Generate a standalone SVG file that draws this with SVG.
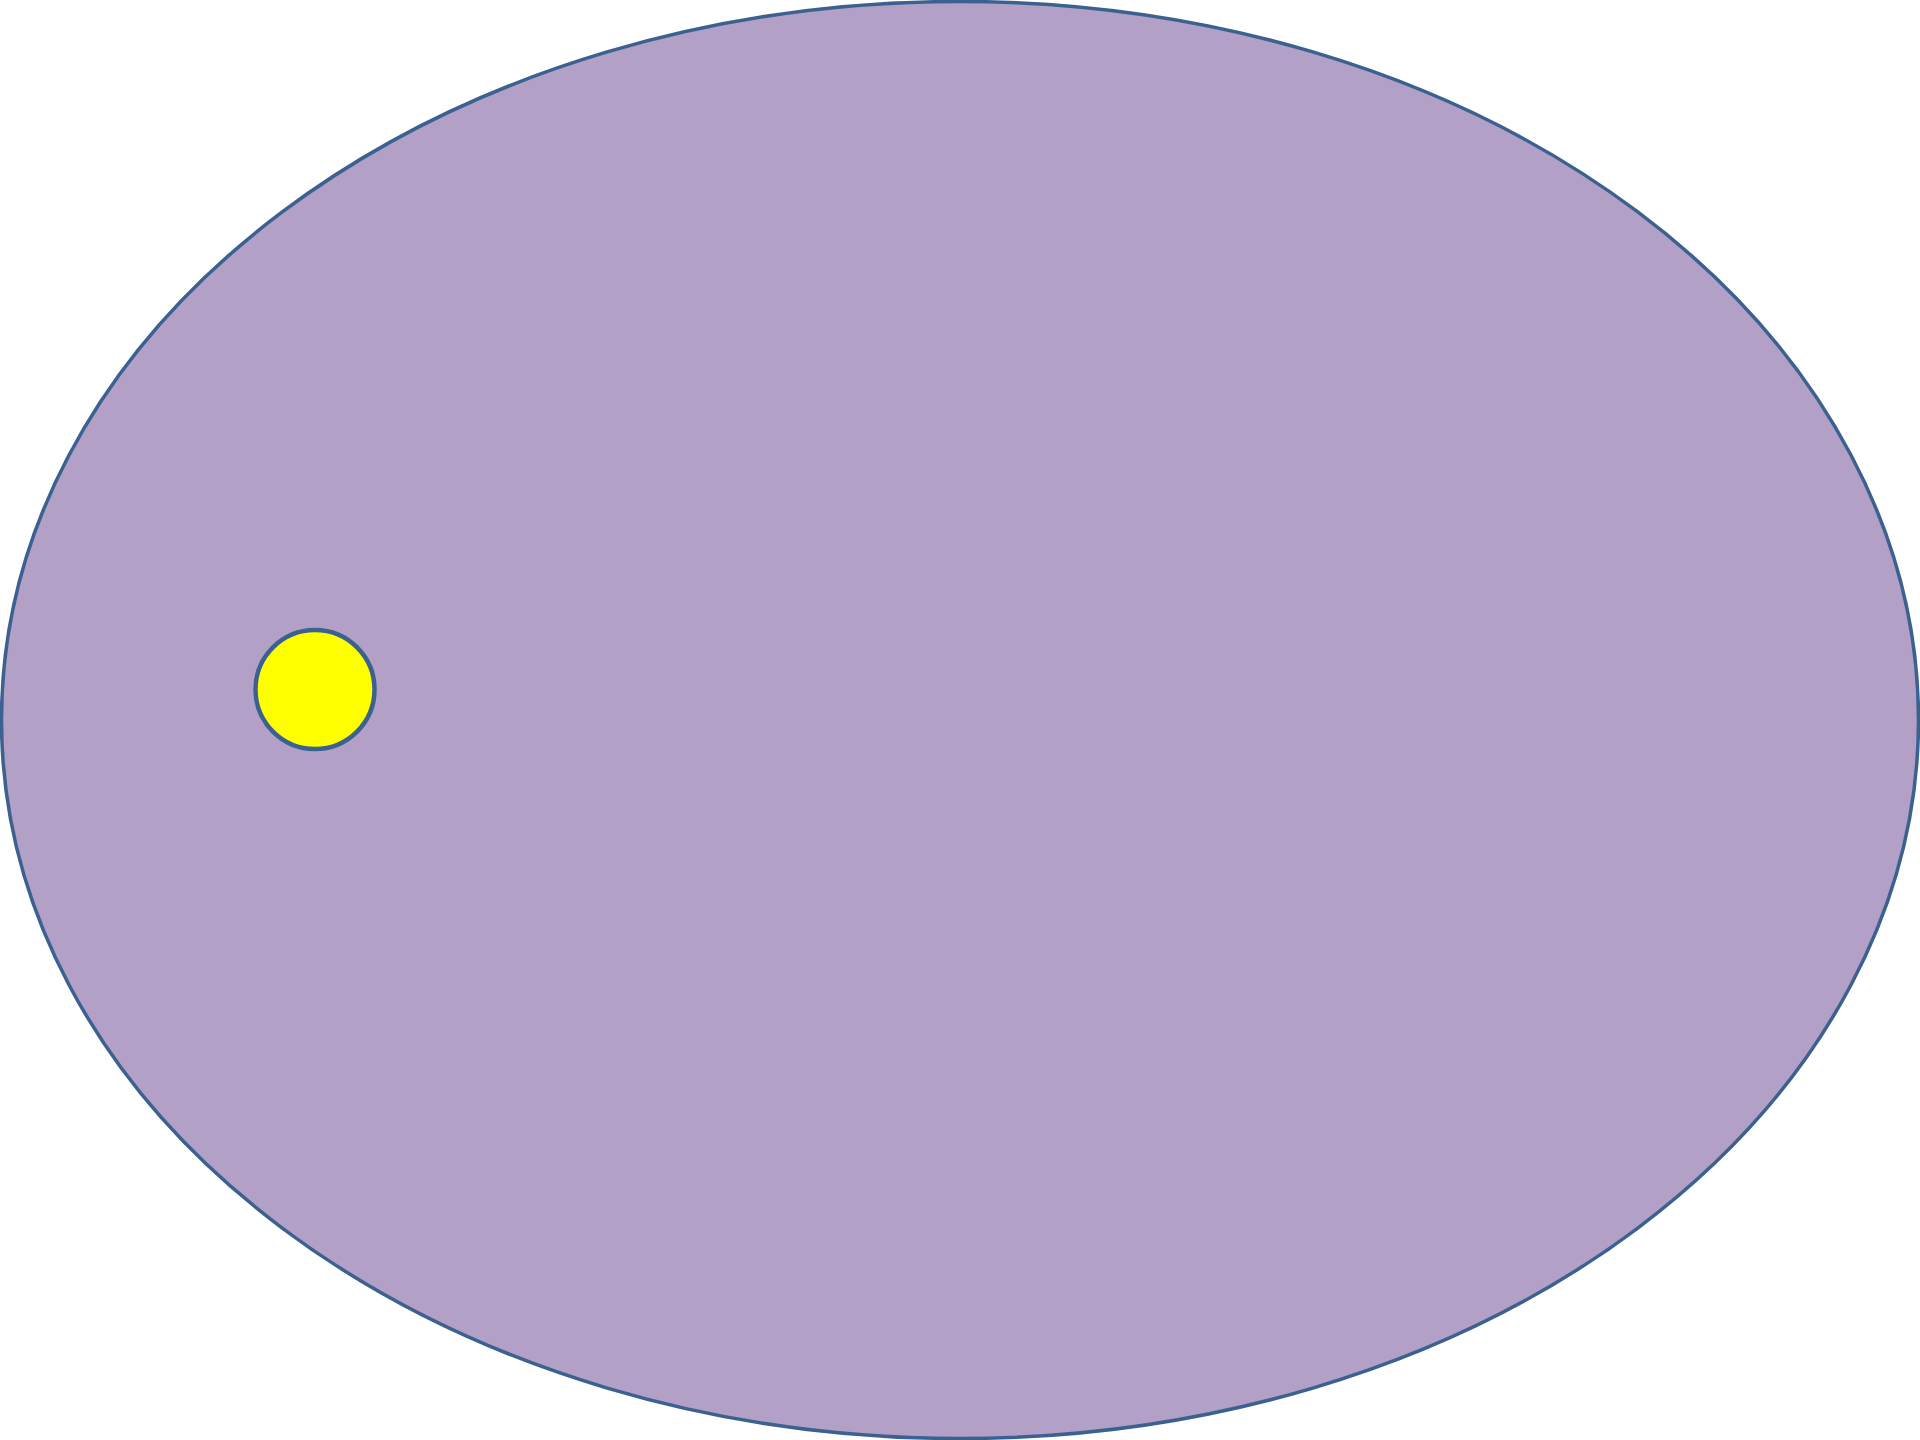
<svg xmlns="http://www.w3.org/2000/svg" width="1920" height="1440" viewBox="0 0 1920 1440">
  <style>
    .shape { stroke: #3b6190; }
  </style>
  <rect width="1920" height="1440" fill="#ffffff"/>
  <g id="outer">
    <ellipse class="shape" cx="960" cy="720" rx="958.5" ry="718.5" fill="#b3a0c6" stroke-width="3.5"/>
  </g>
  <g id="dot">
    <circle class="shape" cx="315" cy="689.5" r="59.5" fill="#ffff00" stroke-width="4.5"/>
  </g>
  <g id="connectors"></g>
</svg>
